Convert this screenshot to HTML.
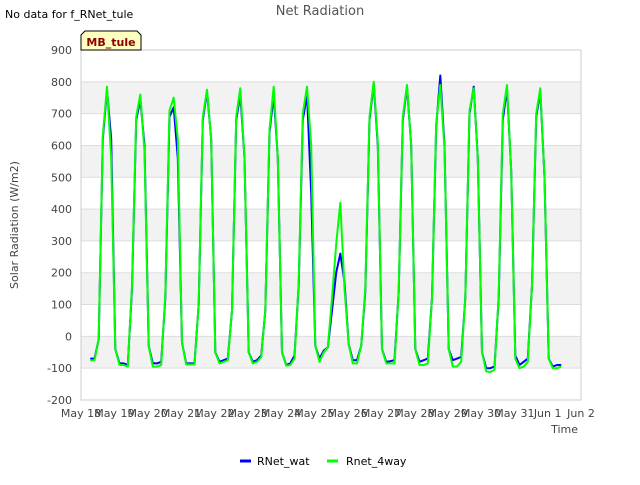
<!DOCTYPE html>
<html><head><meta charset="utf-8"><style>
body{margin:0;background:#fff;font-family:"Liberation Sans","DejaVu Sans",sans-serif}
svg text{font-family:"DejaVu Sans","Liberation Sans",sans-serif}
</style></head><body>
<svg id="chart" width="640" height="480" viewBox="0 0 640 480" xmlns="http://www.w3.org/2000/svg">
<rect width="640" height="480" fill="#fff"/>
<text x="5" y="18" font-size="11" fill="#000">No data for f_RNet_tule</text>
<text x="320" y="15" font-size="13" fill="#555" text-anchor="middle">Net Radiation</text>
<g id="bands"></g>
<g id="grid"></g>
<rect x="81" y="50" width="500" height="350" fill="none" stroke="#ccc"/>
<g id="yticks"></g>
<g id="xticks"></g>
<text transform="translate(18,225) rotate(-90)" font-size="11" fill="#444" text-anchor="middle">Solar Radiation (W/m2)</text>
<text x="578" y="433" font-size="11" fill="#444" text-anchor="end">Time</text>
<g id="series"></g>
<g>
<path d="M81,50 L81,35 L85,31 L137,31 L141,35 L141,50 Z" fill="#ffffc0" stroke="#000" stroke-width="1"/>
<text x="111" y="46" font-size="11" font-weight="bold" fill="#8b0000" text-anchor="middle">MB_tule</text>
</g>
<g>
<line x1="240" y1="461" x2="251" y2="461" stroke="#0000ff" stroke-width="3"/>
<text x="257" y="465" font-size="11" fill="#000">RNet_wat</text>
</g>
<g>
<line x1="327" y1="461" x2="338" y2="461" stroke="#00ff00" stroke-width="3"/>
<text x="346" y="465" font-size="11" fill="#000">Rnet_4way</text>
</g>
</svg>
<script>
const yTicks=[900,800,700,600,500,400,300,200,100,0,-100,-200];
const xTickLabels=["May 18","May 19","May 20","May 21","May 22","May 23","May 24","May 25","May 26","May 27","May 28","May 29","May 30","May 31","Jun 1","Jun 2"];
const tStart=0.28, tStep=0.125;
const rnetWat=[
-70,-70,-10,620,775,620,-40,-85,
-85,-90,150,680,745,600,-30,-85,
-85,-80,120,690,720,560,-20,-85,
-85,-85,100,680,770,620,-50,-80,
-75,-70,80,680,760,560,-50,-80,
-75,-60,80,640,760,560,-50,-90,
-85,-60,160,680,760,450,-30,-70,
-45,-35,80,200,260,170,-25,-75,
-75,-30,140,680,795,600,-40,-80,
-78,-75,140,680,785,600,-40,-80,
-75,-70,120,660,820,600,-40,-75,
-70,-65,120,700,785,560,-50,-100,
-100,-95,120,680,780,520,-60,-90,
-80,-70,160,690,770,500,-70,-95,
-90,-90];
const rnet4way=[
-75,-75,-10,630,785,560,-40,-90,
-90,-95,160,690,760,580,-30,-95,
-95,-90,130,710,750,620,-20,-88,
-88,-88,100,690,775,620,-50,-85,
-80,-75,80,690,780,560,-50,-85,
-80,-65,80,650,785,560,-50,-92,
-90,-70,170,700,785,600,-30,-80,
-50,-35,120,290,420,150,-25,-85,
-85,-30,150,690,800,610,-40,-85,
-85,-85,140,690,790,600,-40,-90,
-90,-85,120,670,790,590,-40,-95,
-95,-80,120,710,780,560,-50,-110,
-112,-105,130,700,790,520,-70,-100,
-95,-80,160,700,780,500,-70,-100,
-100,-95];
const X0=81,X1=581,Y0=400,Y1=50,yMin=-200,yMax=900,days=15;
const xs=t=>X0+(t/days)*(X1-X0);
const ys=v=>Y0-(v-yMin)/(yMax-yMin)*(Y0-Y1);
const NS="http://www.w3.org/2000/svg";
const bands=document.getElementById('bands'),grid=document.getElementById('grid'),yt=document.getElementById('yticks'),xt=document.getElementById('xticks'),ser=document.getElementById('series');
for(let i=0;i<yTicks.length-1;i++){
 const v=yTicks[i];
 if(v===800||v===600||v===400||v===200||v===0){
  const r=document.createElementNS(NS,'rect');
  
  
  r.setAttribute('x',X0);r.setAttribute('width',X1-X0);
  r.setAttribute('y',ys(v));r.setAttribute('height',ys(v-100)-ys(v));
  r.setAttribute('fill','#f2f2f2');bands.appendChild(r);
 }
}
yTicks.forEach(v=>{
 const l=document.createElementNS(NS,'line');
 
 
 l.setAttribute('x1',X0);l.setAttribute('x2',X1);l.setAttribute('y1',ys(v));l.setAttribute('y2',ys(v));
 l.setAttribute('stroke','#ddd');grid.appendChild(l);
 const t=document.createElementNS(NS,'text');
 
 
 t.setAttribute('x',72);t.setAttribute('y',ys(v)+4);t.setAttribute('text-anchor','end');
 t.setAttribute('font-size','11');t.setAttribute('fill','#444');t.textContent=v;yt.appendChild(t);
});
xTickLabels.forEach((s,i)=>{
 const t=document.createElementNS(NS,'text');
 
 
 t.setAttribute('x',xs(i));t.setAttribute('y',417);t.setAttribute('text-anchor','middle');
 t.setAttribute('font-size','11');t.setAttribute('fill','#444');t.textContent=s;xt.appendChild(t);
});
function draw(arr,color,name){
 const p=document.createElementNS(NS,'polyline');
 
 
 p.setAttribute('points',arr.map((v,i)=>xs(tStart+i*tStep).toFixed(1)+','+ys(v).toFixed(1)).join(' '));
 p.setAttribute('fill','none');p.setAttribute('stroke',color);p.setAttribute('stroke-width','2');
 p.setAttribute('stroke-linejoin','round');ser.appendChild(p);
}
draw(rnetWat,'#0000ff','rnet-wat-line');
draw(rnet4way,'#00ff00','rnet-4way-line');
</script>
</body></html>
